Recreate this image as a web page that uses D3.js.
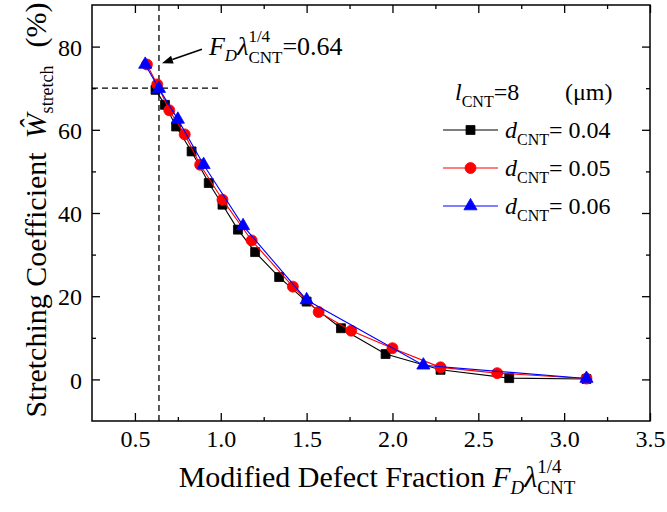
<!DOCTYPE html>
<html>
<head>
<meta charset="utf-8">
<script src="https://cdn.jsdelivr.net/npm/d3@7"></script>
<style>
  html, body { margin: 0; padding: 0; background: #fff; }
  svg { display: block; }
  svg text { font-family: "Liberation Serif", "Times New Roman", "DejaVu Serif", serif; }
</style>
</head>
<body>
<svg id="chart" width="667" height="512"></svg>
<script>
// Stretching coefficient vs. modified defect fraction, l_CNT = 8 µm
const xTicks = [0.5, 1.0, 1.5, 2.0, 2.5, 3.0, 3.5];
const xMinorTicks = [0.75, 1.25, 1.75, 2.25, 2.75, 3.25];
const yTicks = [0, 20, 40, 60, 80];
const yMinorTicks = [10, 30, 50, 70];

const seriesNames = ["0.04", "0.05", "0.06"];
const seriesColors = ["#000000", "#ff0000", "#0000ff"];
const seriesSymbols = ["square", "circle", "triangle"];

const x004 = [0.62, 0.675, 0.74, 0.83, 0.93, 1.01, 1.10, 1.20, 1.34, 1.50, 1.70, 1.96, 2.28, 2.68, 3.13];
const y004 = [69.6, 66.0, 60.8, 54.8, 47.2, 42.0, 36.0, 30.6, 24.6, 18.7, 12.3, 6.1, 2.3, 0.3, 0.1];
const x005 = [0.57, 0.63, 0.70, 0.79, 0.88, 1.01, 1.18, 1.42, 1.57, 1.76, 2.00, 2.28, 2.61, 3.13];
const y005 = [75.7, 70.9, 64.7, 58.9, 51.6, 43.2, 33.4, 22.3, 16.2, 11.7, 7.5, 2.9, 1.5, 0.2];
const x006 = [0.56, 0.64, 0.75, 0.90, 1.13, 1.50, 2.18, 3.13];
const y006 = [75.7, 69.9, 62.5, 51.6, 36.9, 19.1, 3.4, 0.2];

const markX = 0.64;   // threshold F_D·λ^(1/4)
const markY = 70;     // stretching coefficient at threshold

const seriesX = [x004, x005, x006];
const seriesY = [y004, y005, y006];

const W = 667, H = 512;
const margin = { top: 5, right: 17, bottom: 91, left: 92 };
const svg = d3.select("#chart");

const x = d3.scaleLinear().domain([0.25, 3.5]).range([margin.left, W - margin.right]);
const y = d3.scaleLinear().domain([-10, 90]).range([H - margin.bottom, margin.top]);

const FONT = '"Liberation Serif", "Times New Roman", "DejaVu Serif", serif';

// Axes: major and minor ticks pointing inward on all four sides
function styleAxis(g) {
  g.select(".domain").remove();
  g.selectAll(".tick line").attr("stroke", "#000").attr("stroke-width", 1.3);
  g.selectAll(".tick text").attr("font-family", FONT).attr("font-size", 24).attr("fill", "#000");
}
const pBottom = H - margin.bottom, pTop = margin.top, pLeft = margin.left, pRight = W - margin.right;

svg.append("g").attr("transform", `translate(0,${pBottom})`)
  .call(d3.axisBottom(x).tickValues(xTicks).tickFormat(d3.format(".1f")).tickSizeInner(-8).tickSizeOuter(0).tickPadding(9))
  .call(styleAxis);
svg.append("g").attr("transform", `translate(0,${pBottom})`)
  .call(d3.axisBottom(x).tickValues(xMinorTicks).tickFormat("").tickSizeInner(-4).tickSizeOuter(0))
  .call(styleAxis);
svg.append("g").attr("transform", `translate(0,${pTop})`)
  .call(d3.axisTop(x).tickValues(xTicks).tickFormat("").tickSizeInner(-8).tickSizeOuter(0))
  .call(styleAxis);
svg.append("g").attr("transform", `translate(0,${pTop})`)
  .call(d3.axisTop(x).tickValues(xMinorTicks).tickFormat("").tickSizeInner(-4).tickSizeOuter(0))
  .call(styleAxis);

const yAxisG = svg.append("g").attr("transform", `translate(${pLeft},0)`)
  .call(d3.axisLeft(y).tickValues(yTicks).tickFormat(d3.format("d")).tickSizeInner(-8).tickSizeOuter(0).tickPadding(10))
  .call(styleAxis);
yAxisG.selectAll(".tick text").attr("dy", "0.36em");
svg.append("g").attr("transform", `translate(${pLeft},0)`)
  .call(d3.axisLeft(y).tickValues(yMinorTicks).tickFormat("").tickSizeInner(-4).tickSizeOuter(0))
  .call(styleAxis);
svg.append("g").attr("transform", `translate(${pRight},0)`)
  .call(d3.axisRight(y).tickValues(yTicks).tickFormat("").tickSizeInner(-8).tickSizeOuter(0))
  .call(styleAxis);
svg.append("g").attr("transform", `translate(${pRight},0)`)
  .call(d3.axisRight(y).tickValues(yMinorTicks).tickFormat("").tickSizeInner(-4).tickSizeOuter(0))
  .call(styleAxis);

// Frame
svg.append("rect")
  .attr("x", pLeft).attr("y", pTop)
  .attr("width", pRight - pLeft).attr("height", pBottom - pTop)
  .attr("fill", "none").attr("stroke", "#000").attr("stroke-width", 1.5);

// Dashed guide lines at the threshold
svg.append("line")
  .attr("x1", x(markX)).attr("x2", x(markX))
  .attr("y1", pTop).attr("y2", pBottom)
  .attr("stroke", "#000").attr("stroke-width", 1.3).attr("stroke-dasharray", "6,4");
svg.append("line")
  .attr("x1", pLeft).attr("x2", x(1.0))
  .attr("y1", y(markY)).attr("y2", y(markY))
  .attr("stroke", "#000").attr("stroke-width", 1.3).attr("stroke-dasharray", "6,4");

// Marker symbols
const symbolType = { square: d3.symbolSquare, circle: d3.symbolCircle, triangle: d3.symbolTriangle };
const symbolSize = { square: 80, circle: 95, triangle: 75 };
function drawSymbol(g, kind, cx, cy, color) {
  g.append("path")
    .attr("d", d3.symbol().type(symbolType[kind]).size(symbolSize[kind])())
    .attr("transform", `translate(${cx},${cy})`)
    .attr("fill", color).attr("stroke", color).attr("stroke-width", 0.8);
}

// Series lines and markers
const line = d3.line().x(d => x(d[0])).y(d => y(d[1]));
const plot = svg.append("g");
seriesNames.forEach((name, i) => {
  const pts = seriesX[i].map((v, j) => [v, seriesY[i][j]]);
  plot.append("path").datum(pts)
    .attr("d", line).attr("fill", "none")
    .attr("stroke", seriesColors[i]).attr("stroke-width", 1.1);
  pts.forEach(p => drawSymbol(plot, seriesSymbols[i], x(p[0]), y(p[1]), seriesColors[i]));
});

// Rich text: pieces laid out left to right, with optional stacking of sub/superscripts
function rich(g, parts, anchor) {
  let cursor = 0, groupStart = 0, groupW = 0;
  const nodes = [];
  parts.forEach(p => {
    const t = g.append("text")
      .attr("font-family", FONT)
      .attr("font-size", p.size)
      .attr("font-style", p.italic ? "italic" : "normal")
      .attr("fill", "#000")
      .attr("y", -(p.shift || 0))
      .text(p.text);
    const w = t.node().getComputedTextLength();
    let start;
    if (p.stack) {
      start = groupStart;
      groupW = Math.max(groupW, w);
      cursor = groupStart + groupW;
    } else {
      start = cursor + (p.dx || 0);
      groupStart = start;
      groupW = w;
      cursor = start + w;
    }
    t.attr("x", start);
    nodes.push(t);
  });
  const off = anchor === "middle" ? -cursor / 2 : anchor === "end" ? -cursor : 0;
  nodes.forEach(t => t.attr("x", +t.attr("x") + off));
  return cursor;
}

// X-axis title
const xt = svg.append("g").attr("transform", `translate(377,487)`);
rich(xt, [
  { text: "Modified Defect Fraction", size: 30 },
  { text: "F", size: 30, italic: true, dx: 7 },
  { text: "D", size: 19, italic: true, shift: -7 },
  { text: "λ", size: 30, italic: true },
  { text: "1/4", size: 19, shift: 14 },
  { text: "CNT", size: 19, shift: -7, stack: true }
], "middle");

// Y-axis title (rotated)
const yt = svg.append("g").attr("transform", `translate(46,210) rotate(-90)`);
rich(yt, [
  { text: "Stretching Coefficient", size: 30 },
  { text: "Ŵ", size: 30, italic: true, dx: 14 },
  { text: "stretch", size: 18, shift: -7 },
  { text: "(%)", size: 30, dx: 18 }
], "middle");

// Threshold annotation with arrow
const tipX = x(markX) + 3, tipY = y(76);
const tailX = tipX + 40, tailY = tipY - 14;
const ang = Math.atan2(tipY - tailY, tipX - tailX);
const headL = 11, headW = 4;
const bx = tipX - headL * Math.cos(ang), by = tipY - headL * Math.sin(ang);
svg.append("line")
  .attr("x1", tailX).attr("y1", tailY).attr("x2", bx).attr("y2", by)
  .attr("stroke", "#000").attr("stroke-width", 1.6);
svg.append("path")
  .attr("d", `M${tipX},${tipY}L${bx + headW * Math.sin(ang)},${by - headW * Math.cos(ang)}L${bx - headW * Math.sin(ang)},${by + headW * Math.cos(ang)}Z`)
  .attr("fill", "#000");

const ann = svg.append("g").attr("transform", `translate(${tailX + 7},55)`);
rich(ann, [
  { text: "F", size: 26, italic: true },
  { text: "D", size: 17, italic: true, shift: -6 },
  { text: "λ", size: 26, italic: true },
  { text: "1/4", size: 17, shift: 13 },
  { text: "CNT", size: 17, shift: -8, stack: true },
  { text: "=0.64", size: 26 }
], "start");

// Legend
const legHead = svg.append("g").attr("transform", `translate(455,100)`);
rich(legHead, [
  { text: "l", size: 24, italic: true },
  { text: "CNT", size: 16, shift: -7 },
  { text: "=8", size: 24 }
], "start");
svg.append("text").attr("x", 565).attr("y", 100)
  .attr("font-family", FONT).attr("font-size", 24).text("(μm)");

const legRows = [130, 168, 206];
seriesNames.forEach((name, i) => {
  const ry = legRows[i];
  svg.append("line").attr("x1", 443).attr("x2", 498).attr("y1", ry).attr("y2", ry)
    .attr("stroke", seriesColors[i]).attr("stroke-width", 1.1);
  drawSymbol(svg, seriesSymbols[i], 470.5, ry, seriesColors[i]);
  const lg = svg.append("g").attr("transform", `translate(505,${ry + 8})`);
  rich(lg, [
    { text: "d", size: 24, italic: true },
    { text: "CNT", size: 16, shift: -7 },
    { text: "= " + name, size: 24 }
  ], "start");
});
</script>
</body>
</html>
